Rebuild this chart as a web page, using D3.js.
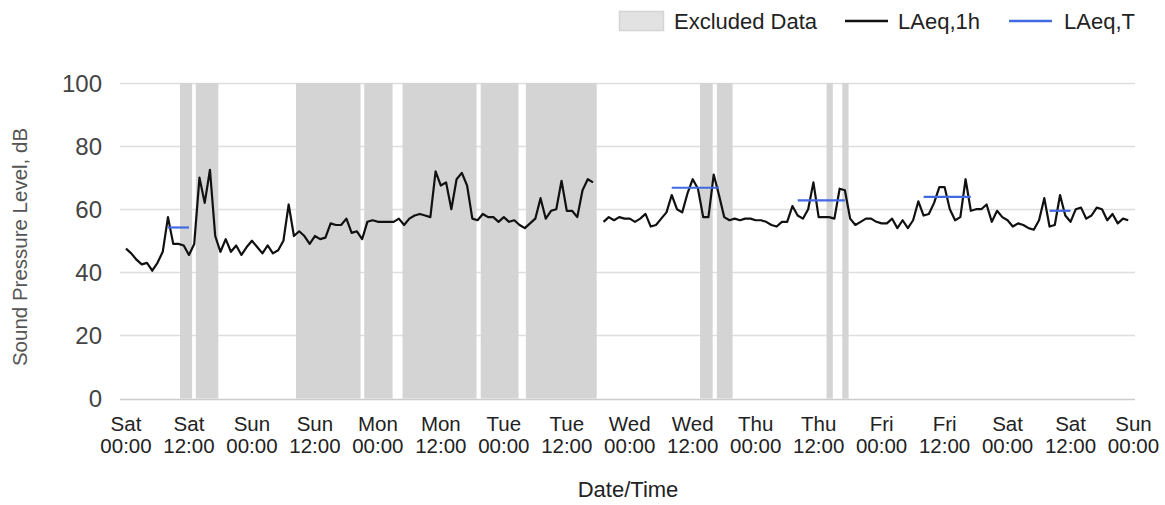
<!DOCTYPE html>
<html>
<head>
<meta charset="utf-8">
<script src="https://cdn.jsdelivr.net/npm/d3@7"></script>
<style>
  body { margin: 0; background: #fff; }
  svg { font-family: "Liberation Sans", Arial, sans-serif; }
</style>
</head>
<body>
<svg id="chart"></svg>
<script>
// hourly LAeq,1h values, index = hours after Sat 00:00 (null = no data)
var levels = [
  47.5, 46, 44, 42.5, 43, 40.5, 43, 46.5, 57.5, 49, 49, 48.5, 45.5, 49, 70, 62,
  72.5, 51.5, 46.5, 50.5, 46.5, 48.5, 45.5, 48, 50, 48, 46, 48.5, 46, 47, 50, 61.5,
  51.5, 53, 51.5, 49, 51.5, 50.5, 51, 55.5, 55, 55, 57, 52.5, 53, 50.5, 56, 56.5,
  56, 56, 56, 56, 57, 55, 57, 58, 58.5, 58, 57.5, 72, 67.5, 68.5, 60, 69.5,
  71.5, 67.5, 57, 56.5, 58.5, 57.5, 57.5, 56, 57.5, 56, 56.5, 55, 54, 55.5, 57, 63.5,
  57, 59.5, 60, 69, 59.5, 59.5, 57.5, 66, 69.5, 68.5, null, 56, 57.5, 56.5, 57.5, 57,
  57, 56, 57, 58.5, 54.5, 55, 57, 59, 64.5, 60, 59, 65, 69.5, 66.5, 57.5, 57.5,
  71, 64.5, 57.5, 56.5, 57, 56.5, 57, 57, 56.5, 56.5, 56, 55, 54.5, 56, 56, 61,
  58, 57, 60, 68.5, 57.5, 57.5, 57.5, 57, 66.5, 66, 57, 55, 56, 57, 57, 56,
  55.5, 55.5, 57, 54, 56.5, 54, 56.5, 62.5, 58, 58.5, 62, 67, 67, 60, 56.5, 57.5,
  69.5, 59.5, 60, 60, 61.5, 56, 59.5, 57.5, 56.5, 54.5, 55.5, 55, 54, 53.5, 56.5, 63.5,
  54.5, 55, 64.5, 58, 56, 60, 60.5, 57, 58, 60.5, 60, 56.5, 58.5, 55.5, 57, 56.5
];

// excluded periods, in hours after Sat 00:00
var excludedStart = [10.3, 13.3, 32.4, 45.4, 52.7, 67.6, 76.2, 109.4, 112.6, 133.5, 136.5];
var excludedEnd = [12.6, 17.6, 44.7, 50.8, 66.8, 74.8, 89.7, 111.8, 115.6, 134.7, 137.7];

// LAeq,T periods
var periodStart = [8, 104, 128, 152, 176];
var periodEnd = [12, 113, 137, 161, 180];
var periodLevel = [54.2, 66.8, 62.8, 63.9, 59.5];

var yTicks = [0, 20, 40, 60, 80, 100];
var legendItems = ["Excluded Data", "LAeq,1h", "LAeq,T"];

var startDate = new Date(2023, 0, 7, 0, 0); // a Saturday
var hour = 3600 * 1000;
function t(h) {
  return new Date(startDate.getTime() + h * hour);
}

var width = 1165, height = 505;
var svg;

document.addEventListener("DOMContentLoaded", function () {
  svg = d3.select("#chart").attr("width", width).attr("height", height);
  drawChart();
});

function drawChart() {
  let x = d3.scaleTime().domain([t(0), t(192)]).range([126, 1133.5]);
  let y = d3.scaleLinear().domain([0, 100]).range([398.5, 83]);

  // gridlines
  svg.append("g")
    .selectAll("line")
    .data(yTicks)
    .enter()
    .append("line")
    .attr("x1", 120)
    .attr("x2", 1135)
    .attr("y1", (d) => Math.round(y(d)) + 0.5)
    .attr("y2", (d) => Math.round(y(d)) + 0.5)
    .attr("stroke", (d) => (d == 0 ? "#cccccc" : "#dedede"))
    .attr("stroke-width", 1.5);

  // excluded data bands
  svg.append("g")
    .selectAll("rect")
    .data(excludedStart)
    .enter()
    .append("rect")
    .attr("x", (d) => x(t(d)))
    .attr("width", (d, i) => x(t(excludedEnd[i])) - x(t(d)))
    .attr("y", y(100))
    .attr("height", y(0) - y(100))
    .attr("fill", "#d4d4d4");

  // y tick labels
  svg.append("g")
    .selectAll("text")
    .data(yTicks)
    .enter()
    .append("text")
    .attr("x", 102)
    .attr("y", (d) => y(d) + 8.5)
    .attr("text-anchor", "end")
    .attr("font-size", 24)
    .attr("fill", "#444")
    .text((d) => d);

  // x tick labels, every 12 hours
  let xTicks = d3.range(0, 193, 12).map(t);
  let xt = svg.append("g")
    .selectAll("text")
    .data(xTicks)
    .enter()
    .append("text")
    .attr("text-anchor", "middle")
    .attr("font-size", 20.5)
    .attr("fill", "#222");
  xt.append("tspan")
    .attr("x", (d) => x(d))
    .attr("y", 431)
    .text(d3.timeFormat("%a"));
  xt.append("tspan")
    .attr("x", (d) => x(d))
    .attr("y", 453)
    .text(d3.timeFormat("%H:%M"));

  // axis titles
  svg.append("text")
    .attr("x", 628)
    .attr("y", 497)
    .attr("text-anchor", "middle")
    .attr("font-size", 22)
    .attr("fill", "#222")
    .text("Date/Time");
  svg.append("text")
    .attr("transform", "translate(27,247) rotate(-90)")
    .attr("text-anchor", "middle")
    .attr("font-size", 20.5)
    .attr("fill", "#555")
    .text("Sound Pressure Level, dB");

  // LAeq,1h line
  let line = d3.line()
    .defined((d) => d != null)
    .x((d, i) => x(t(i)))
    .y((d) => y(d));
  svg.append("path")
    .datum(levels)
    .attr("d", line)
    .attr("fill", "none")
    .attr("stroke", "#111")
    .attr("stroke-width", 2.2)
    .attr("stroke-linejoin", "round");

  // LAeq,T segments
  svg.append("g")
    .selectAll("line")
    .data(periodLevel)
    .enter()
    .append("line")
    .attr("x1", (d, i) => x(t(periodStart[i])))
    .attr("x2", (d, i) => x(t(periodEnd[i])))
    .attr("y1", (d) => y(d))
    .attr("y2", (d) => y(d))
    .attr("stroke", "#4169e1")
    .attr("stroke-width", 2.2);

  // legend
  let lg = svg.append("g").attr("font-size", 22).attr("fill", "#222");
  lg.append("rect")
    .attr("x", 619.5).attr("y", 11.5).attr("width", 44).attr("height", 19)
    .attr("fill", "#e2e2e2").attr("stroke", "#d4d4d4").attr("stroke-width", 1.5);
  lg.append("text").attr("x", 674).attr("y", 29).text(legendItems[0]);
  lg.append("line")
    .attr("x1", 845).attr("x2", 888).attr("y1", 21).attr("y2", 21)
    .attr("stroke", "#111").attr("stroke-width", 2.5);
  lg.append("text").attr("x", 898).attr("y", 29).text(legendItems[1]);
  lg.append("line")
    .attr("x1", 1009).attr("x2", 1052).attr("y1", 21).attr("y2", 21)
    .attr("stroke", "#4169e1").attr("stroke-width", 2.5);
  lg.append("text").attr("x", 1064).attr("y", 29).text(legendItems[2]);
}
</script>
</body>
</html>
